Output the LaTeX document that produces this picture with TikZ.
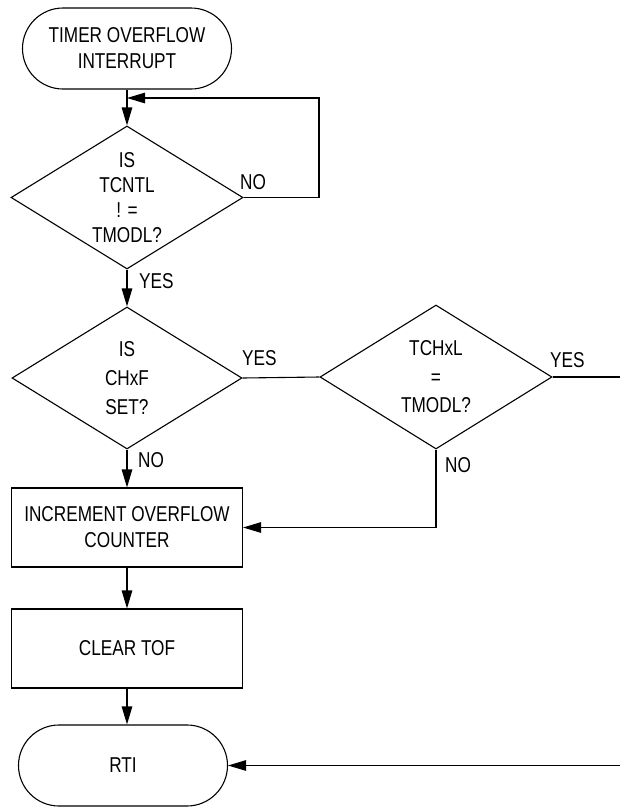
\documentclass[tikz,border=0pt]{standalone}
\usepackage{fontspec}
\setmainfont[FakeStretch=0.8]{Liberation Sans}
\usetikzlibrary{shapes.geometric,shapes.misc,arrows.meta}
\begin{document}
\begin{tikzpicture}[x=1pt,y=-1pt,
  every node/.style={font=\fontsize{21.5}{26}\selectfont},
  flow/.style={line width=1.1pt, -{Triangle[length=18pt,width=10.5pt]}},
  plain/.style={line width=1.1pt},
  term/.style={rounded rectangle, draw, line width=1.1pt, minimum width=209pt, minimum height=81pt, inner sep=0pt, align=center},
  decide/.style={diamond, draw, line width=1.1pt, aspect=1.62, inner sep=0pt, align=center},
  proc/.style={rectangle, draw, line width=1.1pt, minimum width=231pt, minimum height=79pt, inner sep=0pt, align=center},
  lbl/.style={anchor=west, inner sep=0pt}
]
\useasboundingbox (0,0) rectangle (620,807);

\node[term] (start) at (127,48.5) {TIMER OVERFLOW\\INTERRUPT};
\node[decide, minimum width=232pt, minimum height=143pt, font=\fontsize{21.5}{25}\selectfont] (d1) at (127,197.5) {IS\\TCNTL\\! =\\TMODL?};
\node[decide, minimum width=230pt, minimum height=142pt, font=\fontsize{21.5}{29}\selectfont] (d2) at (127,378) {IS\\CHxF\\SET?};
\node[decide, minimum width=232pt, minimum height=144pt, font=\fontsize{21.5}{28.5}\selectfont] (d3) at (436,377) {TCHxL\\=\\TMODL?};
\node[proc] (inc) at (127,527.5) {INCREMENT OVERFLOW\\COUNTER};
\node[proc] (clr) at (127,648.5) {CLEAR TOF};
\node[term] (rti) at (123,765.5) {RTI};

\coordinate (loopc) at (319,98);
\coordinate (edgeA) at (620,377);
\coordinate (edgeB) at (620,765.5);

\draw[flow] (start.south) -- (d1.north);
\draw[flow] (d1.east) -| (loopc) -- (start.south |- loopc);
\node[lbl] (lno1) at (240,182) {NO};

\draw[flow] (d1.south) -- (d2.north);
\node[lbl] (lyes1) at (139,281) {YES};

\draw[plain] (d2.east) -- (d3.west);
\node[lbl] (lyes2) at (242,358) {YES};

\draw[plain] (d3.east) -- (edgeA);
\node[lbl] (lyes3) at (550,360) {YES};

\draw[flow] (d3.south) |- (inc.east);
\node[lbl] (lno3) at (445,465) {NO};

\draw[flow] (d2.south) -- (inc.north);
\node[lbl] (lno2) at (138,460) {NO};

\draw[flow] (inc.south) -- (clr.north);
\draw[flow] (clr.south) -- (clr.south |- rti.north);
\draw[flow] (edgeB) -- (rti.east);
\end{tikzpicture}
\end{document}
